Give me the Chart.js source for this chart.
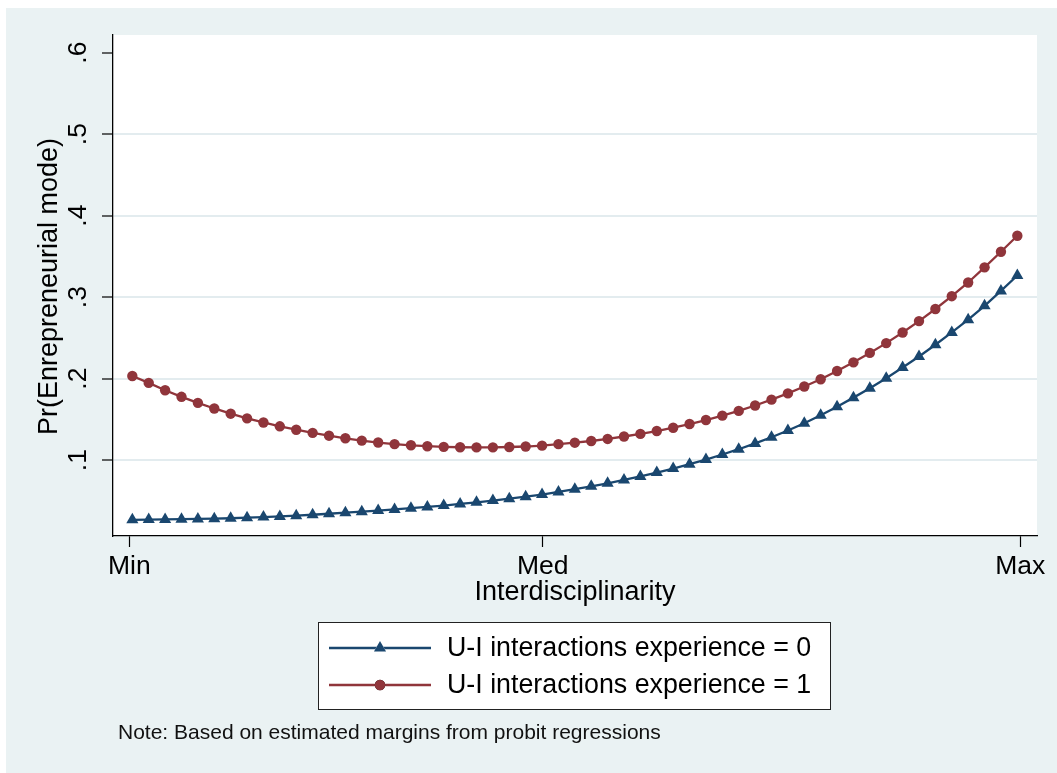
<!DOCTYPE html>
<html>
<head>
<meta charset="utf-8">
<script src="https://cdn.jsdelivr.net/npm/chart.js@4.4.1/dist/chart.umd.min.js"></script>
<style>
  html, body { margin: 0; padding: 0; background: #ffffff; }
  canvas { display: block; }
</style>
</head>
<body>
<canvas id="chart" width="1057" height="773"></canvas>
<script>
// Evaluation grid of interdisciplinarity (step positions along the axis)
const gridSteps = [0, 1, 2, 3, 4, 5, 6, 7, 8, 9, 10, 11, 12, 13, 14, 15, 16, 17, 18, 19,
  20, 21, 22, 23, 24, 25, 26, 27, 28, 29, 30, 31, 32, 33, 34, 35, 36, 37, 38, 39,
  40, 41, 42, 43, 44, 45, 46, 47, 48, 49, 50, 51, 52, 53, 54];

// Predicted Pr(Entrepreneurial mode), no U-I interactions experience
const probNoExperience = [0.0268, 0.0270, 0.0272, 0.0275, 0.0278, 0.0282, 0.0287, 0.0294, 0.0301, 0.0309,
  0.0319, 0.0330, 0.0342, 0.0355, 0.0368, 0.0381, 0.0395, 0.0410, 0.0426, 0.0443,
  0.0462, 0.0482, 0.0504, 0.0527, 0.0551, 0.0578, 0.0610, 0.0643, 0.0679, 0.0716,
  0.0757, 0.0800, 0.0847, 0.0897, 0.0950, 0.1007, 0.1069, 0.1134, 0.1205, 0.1281,
  0.1363, 0.1452, 0.1550, 0.1656, 0.1767, 0.1882, 0.2006, 0.2136, 0.2272, 0.2416,
  0.2567, 0.2724, 0.2894, 0.3076, 0.3266];

// Predicted Pr(Entrepreneurial mode), with U-I interactions experience
const probExperience = [0.2033, 0.1948, 0.1858, 0.1777, 0.1703, 0.1634, 0.1570, 0.1513, 0.1462, 0.1415,
  0.1373, 0.1335, 0.1300, 0.1268, 0.1240, 0.1216, 0.1197, 0.1182, 0.1171, 0.1163,
  0.1158, 0.1156, 0.1157, 0.1161, 0.1167, 0.1178, 0.1196, 0.1214, 0.1235, 0.1260,
  0.1290, 0.1322, 0.1357, 0.1398, 0.1443, 0.1492, 0.1546, 0.1604, 0.1670, 0.1742,
  0.1819, 0.1903, 0.1993, 0.2094, 0.2200, 0.2316, 0.2436, 0.2566, 0.2706, 0.2855,
  0.3012, 0.3180, 0.3366, 0.3557, 0.3754];

const seriesLabels = ['U-I interactions experience = 0', 'U-I interactions experience = 1'];

// Axis ticks
const xTickValues = [-0.18, 25.04, 54.18];
const xTickLabels = ['Min', 'Med', 'Max'];
const yTickValues = [0.1, 0.2, 0.3, 0.4, 0.5, 0.6];
const yTickLabels = ['.1', '.2', '.3', '.4', '.5', '.6'];

const xTitle = 'Interdisciplinarity';
const yTitle = 'Pr(Enrepreneurial mode)';
const noteText = 'Note: Based on estimated margins from probit regressions';

const NAVY = '#1a476f';
const MAROON = '#90353b';
const REGION_BG = '#eaf2f3';
const GRID = '#e3ecef';
const FONT = '"Liberation Sans", Arial, Helvetica, sans-serif';

function toPoints(values) {
  return values.map((v, i) => ({ x: gridSteps[i], y: v }));
}

// Graph region, plot region and all annotation text
const stataFrame = {
  id: 'stataFrame',
  beforeDraw(chart) {
    const { ctx, chartArea: a } = chart;
    ctx.save();
    ctx.fillStyle = '#ffffff';
    ctx.fillRect(0, 0, chart.width, chart.height);
    ctx.fillStyle = REGION_BG;
    ctx.fillRect(6, 8, chart.width - 6, chart.height - 8);
    ctx.fillStyle = '#ffffff';
    ctx.fillRect(a.left, a.top, a.right - a.left, a.bottom - a.top);
    ctx.restore();
  },
  afterDraw(chart) {
    const { ctx, chartArea: a } = chart;
    const yScale = chart.scales.y;
    ctx.save();
    ctx.fillStyle = '#000000';

    // rotated y tick labels
    ctx.font = '26.5px ' + FONT;
    ctx.textAlign = 'center';
    ctx.textBaseline = 'middle';
    yTickValues.forEach((v, i) => {
      const py = yScale.getPixelForValue(v);
      ctx.save();
      ctx.translate(79, py);
      ctx.rotate(-Math.PI / 2);
      ctx.fillText(yTickLabels[i], 0, 0);
      ctx.restore();
    });

    // y axis title
    ctx.font = '27px ' + FONT;
    ctx.save();
    ctx.translate(50, (a.top + a.bottom) / 2 + 1);
    ctx.rotate(-Math.PI / 2);
    ctx.fillText(yTitle, 0, 0);
    ctx.restore();

    // x axis title
    ctx.fillText(xTitle, (a.left + a.right) / 2, 593);

    // legend box
    const box = { left: 318.5, top: 622.5, right: 830.5, bottom: 709.5 };
    ctx.fillStyle = '#ffffff';
    ctx.fillRect(box.left, box.top, box.right - box.left, box.bottom - box.top);
    ctx.strokeStyle = '#222222';
    ctx.lineWidth = 1;
    ctx.strokeRect(box.left, box.top, box.right - box.left, box.bottom - box.top);

    const rows = [648, 685];
    chart.data.datasets.forEach((ds, i) => {
      const y = rows[i];
      ctx.strokeStyle = ds.borderColor;
      ctx.lineWidth = 2.4;
      ctx.beginPath();
      ctx.moveTo(329, y);
      ctx.lineTo(431, y);
      ctx.stroke();
      Chart.helpers.drawPoint(ctx, {
        pointStyle: ds.pointStyle,
        radius: ds.pointRadius,
        rotation: 0,
        borderWidth: 0
      }, 380, y);
      ctx.fillStyle = ds.pointBackgroundColor;
      ctx.fill();
      ctx.fillStyle = '#000000';
      ctx.textAlign = 'left';
      ctx.textBaseline = 'middle';
      ctx.font = '26.8px ' + FONT;
      ctx.fillText(ds.label, 447, y + 1);
    });

    // note
    ctx.font = '21px ' + FONT;
    ctx.fillStyle = '#111111';
    ctx.textAlign = 'left';
    ctx.fillText(noteText, 118, 733);
    ctx.restore();
  }
};

new Chart(document.getElementById('chart'), {
  type: 'line',
  data: {
    datasets: [
      {
        label: seriesLabels[0],
        data: toPoints(probNoExperience),
        borderColor: NAVY,
        backgroundColor: NAVY,
        pointBackgroundColor: NAVY,
        pointBorderColor: NAVY,
        pointBorderWidth: 0,
        pointStyle: 'triangle',
        pointRadius: 7,
        borderWidth: 2.3,
        tension: 0
      },
      {
        label: seriesLabels[1],
        data: toPoints(probExperience),
        borderColor: MAROON,
        backgroundColor: MAROON,
        pointBackgroundColor: MAROON,
        pointBorderColor: MAROON,
        pointBorderWidth: 0,
        pointStyle: 'circle',
        pointRadius: 5.2,
        borderWidth: 2.3,
        tension: 0
      }
    ]
  },
  options: {
    responsive: false,
    animation: false,
    devicePixelRatio: 1,
    layout: { padding: { top: 35, right: 20, bottom: 0, left: 0 } },
    plugins: {
      legend: { display: false },
      tooltip: { enabled: false }
    },
    scales: {
      x: {
        type: 'linear',
        min: -1.18,
        max: 55.2,
        afterBuildTicks(scale) {
          scale.ticks = xTickValues.map(v => ({ value: v }));
        },
        afterFit(scale) {
          scale.height = 237;
        },
        ticks: {
          autoSkip: false,
          maxRotation: 0,
          padding: 4,
          color: '#000000',
          font: { family: FONT, size: 26.5 },
          callback(value) {
            const i = xTickValues.indexOf(value);
            return i >= 0 ? xTickLabels[i] : '';
          }
        },
        grid: {
          drawOnChartArea: false,
          tickLength: 11,
          tickColor: '#000000',
          tickWidth: 1.2
        },
        border: { color: '#000000', width: 1.3 }
      },
      y: {
        type: 'linear',
        min: 0.0069,
        max: 0.6217,
        afterBuildTicks(scale) {
          scale.ticks = yTickValues.map(v => ({ value: v }));
        },
        afterFit(scale) {
          scale.width = 113;
        },
        ticks: { display: false },
        grid: {
          drawOnChartArea: true,
          tickLength: 11,
          tickColor: '#000000',
          tickWidth: 1.2,
          lineWidth: 2,
          color(ctx) {
            return ctx.tick && ctx.tick.value >= 0.6 ? 'rgba(0,0,0,0)' : GRID;
          }
        },
        border: { color: '#000000', width: 1.3 }
      }
    }
  },
  plugins: [stataFrame]
});
</script>
</body>
</html>
